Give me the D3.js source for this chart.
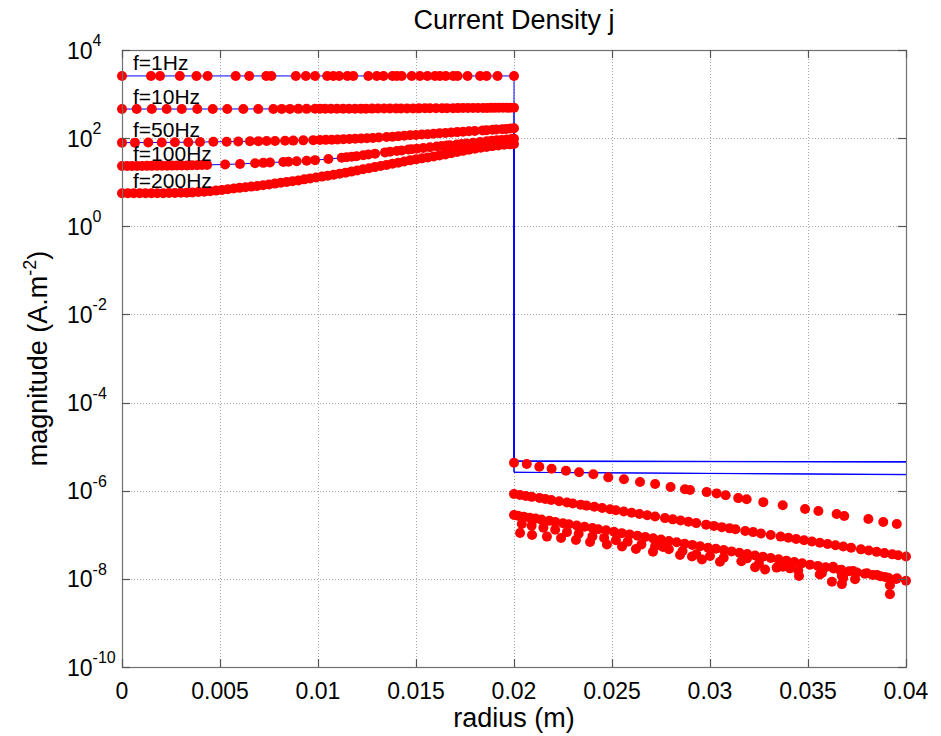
<!DOCTYPE html>
<html>
<head>
<meta charset="utf-8">
<script src="https://cdn.jsdelivr.net/npm/d3@7"></script>
<style>
  body { margin: 0; background: #fff; }
  svg { font-family: "Liberation Sans", Arial, sans-serif; }
</style>
</head>
<body>
<svg id="chart" width="941" height="736"></svg>
<script>
/* Values: [radius (m), |j| (A/m^2)] */
const freqLabels = ["f=1Hz", "f=10Hz", "f=50Hz", "f=100Hz", "f=200Hz"];

const dots1Hz = [[0,2580],[0.00148,2580],[0.00194,2580],[0.00295,2580],[0.0038,2580],[0.00437,2580],[0.0058,2580],[0.00649,2580],[0.00736,2580],[0.00762,2580],[0.00887,2580],[0.00938,2580],[0.00985,2580],[0.01047,2580],[0.01078,2580],[0.01108,2580],[0.0115,2580],[0.0118,2580],[0.01257,2580],[0.013,2580],[0.01334,2580],[0.0138,2580],[0.01402,2580],[0.01427,2580],[0.01478,2580],[0.0152,2580],[0.01558,2580],[0.01597,2580],[0.01622,2580],[0.01652,2580],[0.0169,2580],[0.01712,2580],[0.01763,2580],[0.01827,2580],[0.0186,2580],[0.01916,2580],[0.02,2580]];

const dots10Hz = [[0,458],[0.00075,458],[0.00152,458],[0.00228,458],[0.00305,458],[0.00384,458],[0.00463,459],[0.00537,459],[0.00619,459],[0.00695,460],[0.00772,460],[0.00815,461],[0.00857,461],[0.009,462],[0.00942,462],[0.00985,463],[0.0101,463],[0.01036,464],[0.01066,464],[0.01097,465],[0.01128,465],[0.01158,466],[0.01189,466],[0.01219,467],[0.01245,467],[0.01276,468],[0.01306,469],[0.01337,469],[0.01367,470],[0.01398,471],[0.01423,471],[0.01454,472],[0.01485,473],[0.01515,474],[0.01546,475],[0.01571,475],[0.01602,476],[0.01633,477],[0.01658,478],[0.01689,479],[0.01714,480],[0.0174,481],[0.01765,482],[0.01791,483],[0.01816,484],[0.01842,485],[0.01862,486],[0.01883,487],[0.01903,487],[0.01923,488],[0.01944,489],[0.01964,490],[0.0198,490],[0.02,491]];

const dots50Hz = [[0,79],[0.00066,79],[0.00134,79.5],[0.00203,80],[0.0027,80.5],[0.00338,81],[0.00398,81.5],[0.00466,82.5],[0.00534,83],[0.00593,84],[0.00653,85],[0.00696,85.5],[0.00738,86],[0.00781,86.5],[0.00832,87.5],[0.00874,88],[0.00925,89],[0.00976,90],[0.0101,90.5],[0.0104,91.5],[0.0107,92],[0.011,93],[0.0113,94],[0.0116,95.5],[0.0119,96.5],[0.0122,98],[0.0125,99.5],[0.0128,101],[0.0131,103],[0.0135,106],[0.0138,108],[0.0141,111],[0.0144,113],[0.0147,116],[0.015,118],[0.0153,121],[0.0156,123],[0.0159,126],[0.0162,129],[0.0165,131],[0.0168,134],[0.0171,137],[0.0174,140],[0.0177,143],[0.018,146],[0.0184,150],[0.0186,152],[0.0189,155],[0.0191,157],[0.0194,160],[0.0196,162],[0.0198,165],[0.02,167]];

const dots100Hz = [[0,23.3],[0.00026,23.3],[0.00051,23.3],[0.00077,23.4],[0.00102,23.4],[0.00128,23.5],[0.00153,23.5],[0.00179,23.6],[0.00204,23.6],[0.0023,23.7],[0.00255,23.8],[0.00281,23.9],[0.00306,24],[0.00332,24.1],[0.00357,24.2],[0.00383,24.4],[0.00408,24.5],[0.00434,24.7],[0.00526,25.3],[0.00602,26],[0.00679,27],[0.00721,27.5],[0.00755,28],[0.00823,28.8],[0.00849,29.2],[0.00891,29.8],[0.00942,30.8],[0.00985,31.7],[0.01053,33.6],[0.01121,35.8],[0.01146,36.7],[0.01172,37.8],[0.01197,38.9],[0.01231,40.8],[0.01257,42.4],[0.01291,44.5],[0.01342,47.5],[0.01367,49],[0.01402,51],[0.01427,52.5],[0.01461,55],[0.01478,56],[0.01504,57.3],[0.01537,59.6],[0.01571,62],[0.01606,64.5],[0.01631,66.3],[0.01657,68],[0.01673,69],[0.01708,71.6],[0.01733,73.5],[0.01759,75.5],[0.01792,78.3],[0.01827,81.5],[0.01861,84.5],[0.01886,86.8],[0.01912,89],[0.01937,91],[0.01963,93.5],[0.01988,96],[0.02,97]];

const dots200Hz = [[0,5.6],[0.0003,5.6],[0.0006,5.6],[0.0009,5.61],[0.0012,5.61],[0.0015,5.62],[0.0018,5.63],[0.0021,5.65],[0.0024,5.67],[0.0027,5.7],[0.003,5.74],[0.0033,5.8],[0.0036,5.88],[0.0039,5.98],[0.0042,6.1],[0.0045,6.25],[0.0048,6.45],[0.0051,6.7],[0.0054,6.95],[0.0057,7.2],[0.006,7.45],[0.0063,7.7],[0.0066,7.95],[0.0069,8.2],[0.0072,8.5],[0.0075,8.9],[0.0078,9.3],[0.0081,9.7],[0.0084,10.1],[0.0087,10.5],[0.009,11],[0.0093,11.6],[0.0096,12.2],[0.0099,12.8],[0.0102,13.4],[0.0105,14.1],[0.0108,14.8],[0.0111,15.6],[0.0114,16.4],[0.0117,17.4],[0.012,18.5],[0.0123,19.6],[0.0126,20.8],[0.0129,22],[0.0132,23.3],[0.0135,24.7],[0.0138,26.2],[0.0141,27.8],[0.0144,29.5],[0.0147,31.3],[0.015,33],[0.0153,34.8],[0.0156,36.6],[0.0159,38.5],[0.0162,40.5],[0.0165,42.8],[0.0168,45.5],[0.0171,48.5],[0.0174,51.5],[0.0177,54.5],[0.018,57.5],[0.0183,60.5],[0.0186,63.3],[0.0189,66],[0.0192,68.5],[0.0195,70.5],[0.0198,72.3],[0.02,73.6]];

// outside the conductor (0.02 .. 0.04 m)
const outSparse = [[0.02,4.31e-6],[0.02065,4.03e-6],[0.02129,3.51e-6],[0.02192,3.16e-6],[0.02265,2.84e-6],[0.02332,2.62e-6],[0.02405,2.36e-6],[0.02481,2.01e-6],[0.02561,1.82e-6],[0.02643,1.57e-6],[0.0272,1.42e-6],[0.02799,1.21e-6],[0.02872,1.08e-6],[0.02898,1.04e-6],[0.02983,9.3e-7],[0.03034,8.7e-7],[0.0308,7.9e-7],[0.03144,6.8e-7],[0.03187,6.4e-7],[0.03272,5.5e-7],[0.03371,4.7e-7],[0.03485,3.85e-7],[0.03553,3.46e-7],[0.03646,2.96e-7],[0.03685,2.67e-7],[0.03808,2.28e-7],[0.03884,1.95e-7],[0.03953,1.76e-7]];

const outDenseA = [[0.02,8.41e-7],[0.0203,8.01e-7],[0.0206,7.62e-7],[0.0209,7.26e-7],[0.0213,6.81e-7],[0.0216,6.48e-7],[0.0219,6.17e-7],[0.0223,5.78e-7],[0.0227,5.41e-7],[0.023,5.15e-7],[0.0234,4.83e-7],[0.0237,4.59e-7],[0.0241,4.31e-7],[0.0245,4.04e-7],[0.0249,3.78e-7],[0.0252,3.6e-7],[0.0256,3.37e-7],[0.026,3.16e-7],[0.0264,2.96e-7],[0.0268,2.77e-7],[0.0272,2.6e-7],[0.0277,2.39e-7],[0.0281,2.24e-7],[0.0285,2.1e-7],[0.0289,1.97e-7],[0.0293,1.84e-7],[0.0298,1.7e-7],[0.0302,1.59e-7],[0.0306,1.49e-7],[0.031,1.4e-7],[0.0313,1.33e-7],[0.0318,1.22e-7],[0.0322,1.15e-7],[0.0326,1.07e-7],[0.0331,9.9e-8],[0.0336,9.1e-8],[0.034,8.55e-8],[0.0344,8.0e-8],[0.0348,7.5e-8],[0.0352,7.03e-8],[0.0356,6.58e-8],[0.036,6.17e-8],[0.0364,5.78e-8],[0.0368,5.41e-8],[0.0372,5.07e-8],[0.0377,4.67e-8],[0.0381,4.38e-8],[0.0385,4.1e-8],[0.0389,3.84e-8],[0.0393,3.6e-8],[0.0396,3.43e-8],[0.04,3.21e-8]];

const outDenseB = [[0.02,2.81e-7],[0.0202,2.72e-7],[0.0205,2.58e-7],[0.0208,2.45e-7],[0.0211,2.33e-7],[0.0214,2.21e-7],[0.0218,2.07e-7],[0.0221,1.96e-7],[0.0225,1.83e-7],[0.0228,1.74e-7],[0.0232,1.62e-7],[0.0236,1.52e-7],[0.024,1.42e-7],[0.0243,1.34e-7],[0.0247,1.26e-7],[0.0251,1.17e-7],[0.0255,1.09e-7],[0.0259,1.02e-7],[0.0263,9.5e-8],[0.0267,8.9e-8],[0.0271,8.3e-8],[0.0275,7.8e-8],[0.0279,7.2e-8],[0.0283,6.8e-8],[0.0287,6.3e-8],[0.0291,5.9e-8],[0.0295,5.5e-8],[0.0299,5.1e-8],[0.0303,4.8e-8],[0.0307,4.5e-8],[0.0311,4.2e-8],[0.0315,3.9e-8],[0.0319,3.65e-8],[0.0323,3.4e-8],[0.0327,3.18e-8],[0.0331,2.97e-8],[0.0335,2.77e-8],[0.0339,2.59e-8],[0.0343,2.42e-8],[0.0347,2.25e-8],[0.0351,2.1e-8],[0.0355,1.97e-8],[0.0359,1.84e-8],[0.0363,1.71e-8],[0.0367,1.6e-8],[0.0371,1.49e-8],[0.0375,1.4e-8],[0.0379,1.3e-8],[0.0383,1.22e-8],[0.0387,1.14e-8],[0.0391,1.06e-8],[0.0395,9.9e-9],[0.04,9.1e-9]];

const outScatterMid = [[0.0204,1.75e-7],[0.0209,1.6e-7],[0.0215,1.45e-7],[0.0221,1.3e-7],[0.0227,1.15e-7],[0.0233,1.06e-7],[0.024,9.2e-8],[0.0246,8.5e-8],[0.0252,7.5e-8],[0.0258,7.0e-8],[0.0265,6.0e-8],[0.0272,5.5e-8],[0.0279,4.7e-8],[0.0286,4.3e-8],[0.0293,3.6e-8],[0.03,3.3e-8],[0.0307,3.0e-8],[0.0316,2.5e-8],[0.0325,2.2e-8],[0.0334,1.8e-8],[0.0345,1.55e-8],[0.0356,1.25e-8],[0.0368,1.05e-8]];

const outScatter = [[0.02031,1.1e-7],[0.02092,9.9e-8],[0.02168,9.1e-8],[0.0224,8.45e-8],[0.02316,7.6e-8],[0.02388,6.85e-8],[0.02474,6.0e-8],[0.02551,5.4e-8],[0.02622,4.75e-8],[0.02709,4.13e-8],[0.0276,5.27e-8],[0.02847,3.48e-8],[0.02908,3.21e-8],[0.02959,2.75e-8],[0.03051,2.45e-8],[0.03189,2.92e-8],[0.0323,1.83e-8],[0.03281,1.63e-8],[0.03372,1.88e-8],[0.03408,1.73e-8],[0.03454,1.16e-8],[0.03571,1.36e-8],[0.03622,8.6e-9],[0.03628,1.88e-8],[0.03663,1.58e-8],[0.03673,1.16e-8],[0.03673,7.6e-9],[0.0373,1.51e-8],[0.0374,9.8e-9],[0.03801,1.34e-8],[0.03852,1.22e-8],[0.03893,1.1e-8],[0.03918,7.2e-9],[0.03918,4.5e-9],[0.03954,1.03e-8]];

// analytic curves (blue): level outside the conductor at r = 0.02 and r = 0.04
const blueOuterStart = [4.72e-6, 4.72e-6, 4.6e-6, 2.62e-6, 2.62e-6];
const blueOuterEnd = [4.55e-6, 4.5e-6, 4.5e-6, 2.35e-6, 2.3e-6];

const xTicks = [0, 0.005, 0.01, 0.015, 0.02, 0.025, 0.03, 0.035, 0.04];
const xTickLabels = ["0", "0.005", "0.01", "0.015", "0.02", "0.025", "0.03", "0.035", "0.04"];
const yTicks = [1e4, 1e2, 1e0, 1e-2, 1e-4, 1e-6, 1e-8, 1e-10];
const yTickExp = ["4", "2", "0", "-2", "-4", "-6", "-8", "-10"];

const innerSeries = [dots1Hz, dots10Hz, dots50Hz, dots100Hz, dots200Hz];
const outerSeries = [outSparse, outDenseA, outDenseB, outScatterMid, outScatter];

// layout
const plotLeft = 122, plotRight = 906, plotTop = 50, plotBottom = 667;
const svg = d3.select('#chart');

const x = d3.scaleLinear().domain([0, 0.04]).range([plotLeft, plotRight]);
const y = d3.scaleLog().domain([1e-10, 1e4]).range([plotBottom, plotTop]);

// grid
const grid = svg.append('g')
  .attr('stroke', '#a8a8a8')
  .attr('stroke-width', 1)
  .attr('stroke-dasharray', '1,2');
grid.selectAll('line.gx')
  .data(xTicks.slice(1, -1))
  .enter().append('line')
  .attr('x1', d => Math.round(x(d)) + 0.5).attr('x2', d => Math.round(x(d)) + 0.5)
  .attr('y1', plotTop).attr('y2', plotBottom);
grid.selectAll('line.gy')
  .data(yTicks.slice(1, -1))
  .enter().append('line')
  .attr('y1', d => Math.round(y(d)) + 0.5).attr('y2', d => Math.round(y(d)) + 0.5)
  .attr('x1', plotLeft).attr('x2', plotRight);

// blue analytic lines
const line = d3.line().x(d => x(d[0])).y(d => y(d[1]));
innerSeries.forEach((s, i) => {
  const pts = s.concat([[0.02, blueOuterStart[i]], [0.04, blueOuterEnd[i]]]);
  svg.append('path')
    .attr('d', line(pts))
    .attr('fill', 'none')
    .attr('stroke', '#0000ff')
    .attr('stroke-width', 1);
});

// red numerical points
const dotsG = svg.append('g').attr('fill', '#ff0000');
innerSeries.concat(outerSeries).forEach(s => {
  dotsG.selectAll(null)
    .data(s)
    .enter().append('circle')
    .attr('cx', d => x(d[0]))
    .attr('cy', d => y(d[1]))
    .attr('r', 5);
});

// frequency labels
innerSeries.forEach((s, i) => {
  svg.append('text')
    .attr('x', plotLeft + 11)
    .attr('y', y(s[0][1]) - 5.5)
    .attr('font-size', 21)
    .attr('fill', '#000')
    .text(freqLabels[i]);
});

// box and ticks
svg.append('rect')
  .attr('x', plotLeft + 0.5).attr('y', plotTop + 0.5)
  .attr('width', plotRight - plotLeft).attr('height', plotBottom - plotTop)
  .attr('fill', 'none').attr('stroke', '#707070').attr('stroke-width', 1.2);

const ticks = svg.append('g').attr('stroke', '#555').attr('stroke-width', 1.2);
xTicks.forEach(t => {
  const px = Math.round(x(t)) + 0.5;
  ticks.append('line').attr('x1', px).attr('x2', px).attr('y1', plotBottom).attr('y2', plotBottom - 8);
  ticks.append('line').attr('x1', px).attr('x2', px).attr('y1', plotTop).attr('y2', plotTop + 8);
});
yTicks.forEach(t => {
  const py = Math.round(y(t)) + 0.5;
  ticks.append('line').attr('x1', plotLeft).attr('x2', plotLeft + 8).attr('y1', py).attr('y2', py);
  ticks.append('line').attr('x1', plotRight).attr('x2', plotRight - 8).attr('y1', py).attr('y2', py);
});

// tick labels
svg.append('g').selectAll('text')
  .data(xTicks)
  .enter().append('text')
  .attr('x', d => x(d))
  .attr('y', plotBottom + 32)
  .attr('text-anchor', 'middle')
  .attr('font-size', 23)
  .text((d, i) => xTickLabels[i]);

yTicks.forEach((t, i) => {
  const txt = svg.append('text')
    .attr('x', 67)
    .attr('y', y(t) + 8.5)
    .attr('font-size', 23);
  txt.append('tspan').text('10');
  txt.append('tspan').attr('font-size', 16).attr('dy', -12.5).text(yTickExp[i]);
});

// title and axis labels
svg.append('text')
  .attr('x', (plotLeft + plotRight) / 2).attr('y', 29)
  .attr('text-anchor', 'middle')
  .attr('font-size', 27)
  .text('Current Density j');

svg.append('text')
  .attr('x', (plotLeft + plotRight) / 2).attr('y', 727)
  .attr('text-anchor', 'middle')
  .attr('font-size', 27)
  .text('radius (m)');

const yl = svg.append('text')
  .attr('transform', `translate(47,${(plotTop + plotBottom) / 2}) rotate(-90)`)
  .attr('text-anchor', 'middle')
  .attr('font-size', 27);
yl.append('tspan').text('magnitude (A.m');
yl.append('tspan').attr('font-size', 18).attr('dy', -11).text('-2');
yl.append('tspan').attr('dy', 11).text(')');
</script>
</body>
</html>
